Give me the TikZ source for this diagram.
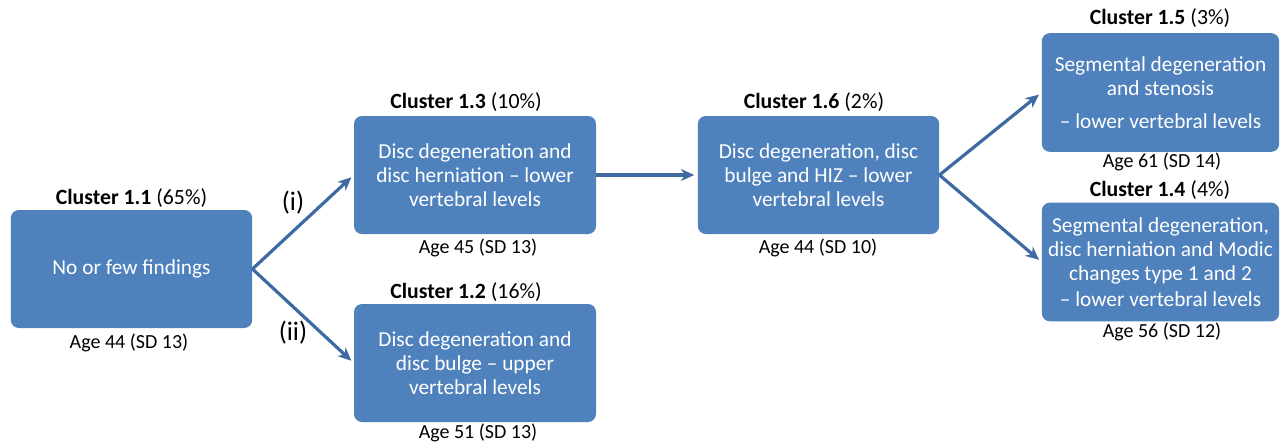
\documentclass[tikz,border=0pt]{standalone}
\usepackage{fontspec}
\setmainfont{Carlito}
\usepackage{tikz}
\usetikzlibrary{arrows.meta}

\definecolor{boxblue}{RGB}{79,129,189}
\definecolor{arrowblue}{RGB}{62,106,162}

\begin{document}
\begin{tikzpicture}[x=0.75pt,y=0.75pt,yscale=-1,xscale=1,
  cluster/.style={draw=none,fill=boxblue,rounded corners=6pt,text=white,
    font=\fontsize{16}{18}\selectfont,align=center,inner sep=0pt},
  caption/.style={font=\fontsize{15}{18}\selectfont,inner sep=0pt},
  heading/.style={font=\fontsize{16.3}{18}\selectfont,inner sep=0pt},
  link/.style={draw=arrowblue,line width=2.4pt,-{Stealth[length=10pt,width=9pt]},shorten >=2.5pt}]
\useasboundingbox (0,0) rectangle (1280,444);

%Shape: Rounded Rect
\node [cluster,minimum width=181pt,minimum height=88.5pt] (c11) at (131.5,269) {No or few findings};
%Shape: Rounded Rect
\node [cluster,minimum width=181.5pt,minimum height=88.5pt] (c13) at (475,175) {Disc degeneration and\\disc herniation -- lower\\vertebral levels};
%Shape: Rounded Rect
\node [cluster,minimum width=181.5pt,minimum height=88.5pt] (c12) at (475,363) {Disc degeneration and\\disc bulge -- upper\\vertebral levels};
%Shape: Rounded Rect
\node [cluster,minimum width=181pt,minimum height=88.5pt] (c16) at (818.5,175) {Disc degeneration, disc\\bulge and HIZ -- lower\\vertebral levels};
%Shape: Rounded Rect
\node [cluster,minimum width=178pt,minimum height=89pt] (c15) at (1160.5,92.5) {Segmental degeneration\\and stenosis\\[6.5pt]-- lower vertebral levels};
%Shape: Rounded Rect
\node [cluster,minimum width=178pt,minimum height=89pt] (c14) at (1160.5,262) {Segmental degeneration,\\disc herniation and Modic\\changes type 1 and 2\\[1.5pt]-- lower vertebral levels};

%Straight Lines
\draw [link] (c11.east) -- (c13.west);
\draw [link] (c11.east) -- (c12.west);
\draw [link] (c13.east) -- (c16.west);
\draw [link] (c16.east) -- (c15.west);
\draw [link] (c16.east) -- (c14.west);

% Text Node
\node [heading] (t11) at (131.5,198) {\textbf{Cluster 1.1} (65\%)};
% Text Node
\node [heading] (t13) at (466,102) {\textbf{Cluster 1.3} (10\%)};
% Text Node
\node [heading] (t12) at (466,292) {\textbf{Cluster 1.2} (16\%)};
% Text Node
\node [heading] (t16) at (814,102) {\textbf{Cluster 1.6} (2\%)};
% Text Node
\node [heading] (t15) at (1160,18) {\textbf{Cluster 1.5} (3\%)};
% Text Node
\node [heading] (t14) at (1160,190) {\textbf{Cluster 1.4} (4\%)};
% Text Node
\node [caption] (g11) at (129,343) {Age 44 (SD 13)};
% Text Node
\node [caption] (g13) at (478,248) {Age 45 (SD 13)};
% Text Node
\node [caption] (g12) at (478,433) {Age 51 (SD 13)};
% Text Node
\node [caption] (g16) at (818,248) {Age 44 (SD 10)};
% Text Node
\node [caption] (g15) at (1162,162) {Age 61 (SD 14)};
% Text Node
\node [caption] (g14) at (1162,332) {Age 56 (SD 12)};
% Text Node
\node [font=\fontsize{20}{22}\selectfont] (li) at (293,203) {(i)};
% Text Node
\node [font=\fontsize{20}{22}\selectfont] (lii) at (293,333) {(ii)};

\end{tikzpicture}
\end{document}
